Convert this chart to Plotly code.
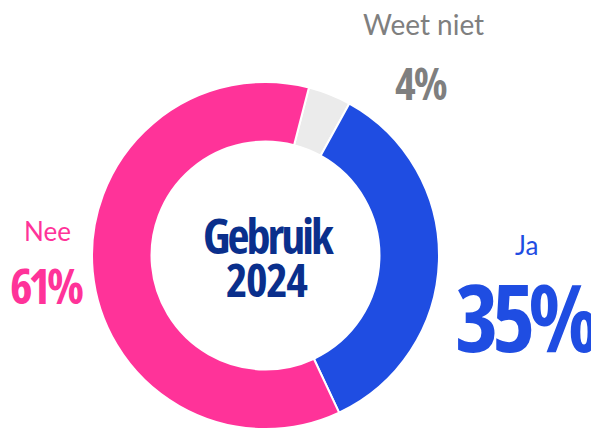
import plotly.graph_objects as go

labels = ["Weet niet", "Ja", "Nee"]
values = [4, 35, 61]
colors = ["#EBEBEB", "#1F4DE2", "#FF3399"]
pct_labels = ["4%", "35%", "61%"]
center_title = ["Gebruik", "2024"]

W, H = 599, 428
OFF = 8  # page renders the figure offset by the body margin
cx, cy, R = 265.5 - OFF, 255.5 - OFF, 173.5

fig = go.Figure(go.Pie(
    labels=labels, values=values, sort=False, direction="clockwise",
    rotation=14.5, hole=0.657,
    marker=dict(colors=colors, line=dict(color="white", width=2)),
    textinfo="none", hoverinfo="label+percent", showlegend=False,
    domain=dict(x=[(cx - R) / W, (cx + R) / W], y=[(H - cy - R) / H, (H - cy + R) / H]),
))

body = "Lato, Open Sans, sans-serif"

def ann(x, y, text, size, color, family, weight="normal", style=None):
    if style:
        text = f'<span style="{style}">{text}</span>'
    fig.add_annotation(x=(x - OFF) / W, y=1 - (y - OFF) / H, xref="paper", yref="paper",
                       text=text, showarrow=False, xanchor="center", yanchor="middle",
                       font=dict(size=size, color=color, family=family, weight=weight))

def cond(sp):
    return f"font-stretch:75%;letter-spacing:{sp}px"

ann(423, 24, labels[0], 28, "#7F7F7F", body)
ann(421, 83, pct_labels[0], 44, "#7F7F7F", "Open Sans", "bold", cond(-2))
ann(526, 245, labels[1], 26, "#1F4DE2", body)
ann(526, 316, pct_labels[1], 93, "#1F4DE2", "Open Sans", "bold", cond(-7))
ann(47, 231, labels[2], 26, "#FF3399", body)
ann(46, 285, pct_labels[2], 48, "#FF3399", "Open Sans", "bold", cond(-4))
ann(268, 235, center_title[0], 48, "#0A2F8C", "Open Sans", "bold", cond(-3))
ann(267, 279, center_title[1], 46, "#0A2F8C", "Open Sans", "bold", cond(-1.5))

fig.update_layout(width=W, height=H, margin=dict(l=0, r=0, t=0, b=0),
                  paper_bgcolor="white", plot_bgcolor="white")
fig.write_html("out.html")
